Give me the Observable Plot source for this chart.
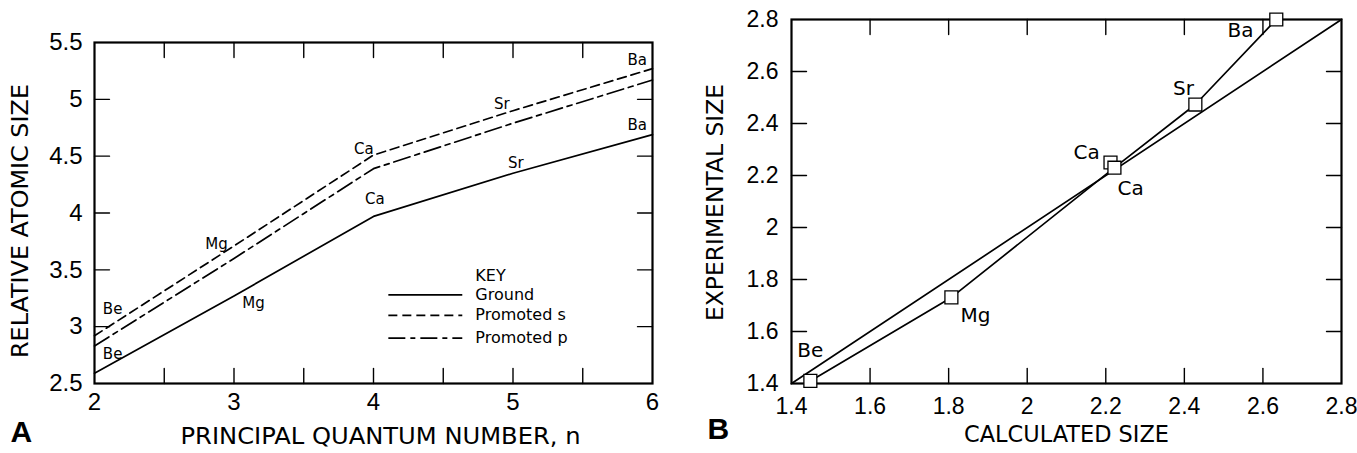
<!DOCTYPE html>
<html><head><meta charset="utf-8">
<script src="https://cdn.jsdelivr.net/npm/d3@7"></script>
<script src="https://cdn.jsdelivr.net/npm/@observablehq/plot@0.6"></script>
<style>
body{margin:0;background:#fff;}
#wrap{position:relative;width:1357px;height:453px;overflow:hidden;background:#fff;}
#a{position:absolute;left:0;top:0;}
#b{position:absolute;left:680px;top:0;}
</style></head><body><div id="wrap"><div id="a"></div><div id="b"></div></div>
<script>
// ---------- Panel A data ----------
const elements = ["Be", "Mg", "Ca", "Sr", "Ba"];
const quantumN = [2, 3, 4, 5, 6];
const groundSize = [2.59, 3.27, 3.97, 4.35, 4.69];
const promotedSSize = [2.92, 3.71, 4.51, 4.90, 5.27];
const promotedPSize = [2.83, 3.60, 4.39, 4.79, 5.17];

const labelAText = ["Be", "Be", "Mg", "Mg", "Ca", "Ca", "Sr", "Sr", "Ba", "Ba"];
const labelAX = [2.13, 2.13, 2.875, 3.14, 3.93, 4.01, 4.92, 5.02, 5.89, 5.89];
const labelAY = [3.15, 2.76, 3.73, 3.21, 4.56, 4.12, 4.96, 4.44, 5.34, 4.77];

const keyTitle = "KEY";
const keyLabels = ["Ground", "Promoted s", "Promoted p"];
const keyY = [3.28, 3.10, 2.90];
const keyTitleY = 3.45;
const keyX1 = 4.11, keyX2 = 4.64, keyTextX = 4.73;

const xTicksA = [2, 3, 4, 5, 6];
const yTicksA = [2.5, 3, 3.5, 4, 4.5, 5, 5.5];
const xMinorA = [2.5, 3, 3.5, 4, 4.5, 5, 5.5];
const yMinorA = [3, 3.5, 4, 4.5, 5];

// ---------- Panel B data ----------
const pointEl = ["Be", "Mg", "Ca", "Ca", "Sr", "Ba"];
const calculatedSize = [1.448, 1.807, 2.212, 2.222, 2.428, 2.634];
const experimentalSize = [1.41, 1.731, 2.25, 2.23, 2.473, 2.80];
const pathIndex = [0, 1, 3, 4, 5];
const identityLine = [1.4, 2.8];

const labelBText = ["Be", "Mg", "Ca", "Ca", "Sr", "Ba"];
const labelBX = [1.448, 1.868, 2.151, 2.263, 2.398, 2.543];
const labelBY = [1.527, 1.662, 2.288, 2.15, 2.535, 2.758];

const ticksB = [1.4, 1.6, 1.8, 2, 2.2, 2.4, 2.6, 2.8];
const minorB = [1.6, 1.8, 2, 2.2, 2.4, 2.6];

// ---------- helpers ----------
const FONT = "DejaVu Sans, sans-serif";
const TICKFONT = "Liberation Sans, Arial, sans-serif";
const tickShape = {draw(ctx, l) { ctx.moveTo(0, 0); ctx.lineTo(0, -l); }};
function innerTicks(values, dim, side) {
  const rotate = {bottom: 0, top: 180, left: 90, right: -90}[side];
  const o = {frameAnchor: side, length: 15, rotate, anchor: "start", shape: tickShape, stroke: "black", strokeWidth: 1.4};
  o[dim] = d => d;
  return Plot.vector(values, o);
}
function fitText(svg, content, len) {
  d3.select(svg).selectAll("text").filter(function () { return this.textContent === content; })
    .attr("textLength", len).attr("lengthAdjust", "spacingAndGlyphs");
}
function fitRotated(svg, content, len) {
  d3.select(svg).selectAll("text").filter(function () { return this.textContent === content; })
    .attr("textLength", len).attr("lengthAdjust", "spacingAndGlyphs")
    .attr("text-anchor", "start").attr("x", -len / 2);
}

// ---------- Panel A ----------
const rowsA = elements.map((e, i) => ({el: e, n: quantumN[i], g: groundSize[i], s: promotedSSize[i], p: promotedPSize[i]}));
const labA = labelAText.map((t, i) => i);

const plotA = Plot.plot({
  width: 680, height: 453,
  marginLeft: 94, marginRight: 28, marginTop: 42, marginBottom: 70,
  x: {domain: [2, 6]},
  y: {domain: [2.5, 5.5]},
  style: {fontFamily: FONT, color: "black", background: "white"},
  marks: [
    Plot.line(rowsA, {x: "n", y: "g", stroke: "black", strokeWidth: 1.7}),
    Plot.line(rowsA, {x: "n", y: "s", stroke: "black", strokeWidth: 1.7, strokeDasharray: "9,5"}),
    Plot.line(rowsA, {x: "n", y: "p", stroke: "black", strokeWidth: 1.7, strokeDasharray: "17,5,5,5"}),
    Plot.text(labA, {x: i => labelAX[i], y: i => labelAY[i], text: i => labelAText[i], fontSize: 15}),
    // key
    Plot.text([keyTitle], {x: keyTextX, y: keyTitleY, textAnchor: "start", fontSize: 16}),
    Plot.ruleY([keyY[0]], {x1: keyX1, x2: keyX2, stroke: "black", strokeWidth: 1.7}),
    Plot.ruleY([keyY[1]], {x1: keyX1, x2: keyX2, stroke: "black", strokeWidth: 1.7, strokeDasharray: "9,5"}),
    Plot.ruleY([keyY[2]], {x1: keyX1, x2: keyX2, stroke: "black", strokeWidth: 1.7, strokeDasharray: "17,5,5,5"}),
    Plot.text(keyLabels, {x: keyTextX, y: (d, i) => keyY[i], text: d => d, textAnchor: "start", fontSize: 16}),
    // axes
    Plot.frame({stroke: "black", strokeWidth: 2.2}),
    innerTicks(xMinorA, "x", "bottom"),
    innerTicks(xMinorA, "x", "top"),
    innerTicks(yMinorA, "y", "left"),
    innerTicks(yMinorA, "y", "right"),
    Plot.axisX({ticks: xTicksA, tickSize: 0, tickPadding: 9, fontSize: 24, fontFamily: TICKFONT, label: null, tickFormat: d => String(d)}),
    Plot.axisY({ticks: yTicksA, tickSize: 0, tickPadding: 12, fontSize: 24, fontFamily: TICKFONT, label: null, tickFormat: d => String(d)}),
    Plot.text(["PRINCIPAL QUANTUM NUMBER, n"], {frameAnchor: "bottom", dx: 7, dy: 60, fontSize: 23}),
    Plot.text(["RELATIVE ATOMIC SIZE"], {frameAnchor: "left", rotate: -90, dx: -74, dy: 8, fontSize: 23}),
    Plot.text(["A"], {frameAnchor: "bottom-left", dx: -84, dy: 58, textAnchor: "start", fontSize: 30, fontWeight: "bold", fontFamily: "Liberation Sans, Arial, sans-serif"})
  ]
});
fitText(plotA, "PRINCIPAL QUANTUM NUMBER, n", 400);
fitRotated(plotA, "RELATIVE ATOMIC SIZE", 274);
document.getElementById("a").appendChild(plotA);

// ---------- Panel B ----------
const rowsB = pointEl.map((e, i) => ({el: e, c: calculatedSize[i], x: experimentalSize[i]}));
const pathB = pathIndex.map(i => rowsB[i]);
const idRows = identityLine.map(v => ({c: v, x: v}));
const labB = labelBText.map((t, i) => i);

const plotB = Plot.plot({
  width: 677, height: 453,
  marginLeft: 111, marginRight: 16, marginTop: 19, marginBottom: 70,
  x: {domain: [1.4, 2.8]},
  y: {domain: [1.4, 2.8]},
  style: {fontFamily: FONT, color: "black", background: "white"},
  marks: [
    Plot.line(idRows, {x: "c", y: "x", stroke: "black", strokeWidth: 1.7}),
    Plot.line(pathB, {x: "c", y: "x", stroke: "black", strokeWidth: 1.7}),
    Plot.frame({stroke: "black", strokeWidth: 2.2}),
    innerTicks(minorB, "x", "bottom"),
    innerTicks(minorB, "x", "top"),
    innerTicks(minorB, "y", "left"),
    innerTicks(minorB, "y", "right"),
    Plot.dot(rowsB, {x: "c", y: "x", symbol: "square", r: 7.3, fill: "white", stroke: "black", strokeWidth: 1.3}),
    Plot.text(labB, {x: i => labelBX[i], y: i => labelBY[i], text: i => labelBText[i], fontSize: 20}),
    Plot.axisX({ticks: ticksB, tickSize: 0, tickPadding: 14, fontSize: 23, fontFamily: TICKFONT, label: null, tickFormat: d => String(d)}),
    Plot.axisY({ticks: ticksB, tickSize: 0, tickPadding: 13, fontSize: 23, fontFamily: TICKFONT, label: null, tickFormat: d => String(d)}),
    Plot.text(["CALCULATED SIZE"], {frameAnchor: "bottom", dy: 58, fontSize: 23}),
    Plot.text(["EXPERIMENTAL SIZE"], {frameAnchor: "left", rotate: -90, dx: -76, dy: 1, fontSize: 23}),
    Plot.text(["B"], {frameAnchor: "bottom-left", dx: -84, dy: 55, textAnchor: "start", fontSize: 30, fontWeight: "bold", fontFamily: "Liberation Sans, Arial, sans-serif"})
  ]
});
fitText(plotB, "CALCULATED SIZE", 205);
fitRotated(plotB, "EXPERIMENTAL SIZE", 237);
document.getElementById("b").appendChild(plotB);
</script></body></html>
